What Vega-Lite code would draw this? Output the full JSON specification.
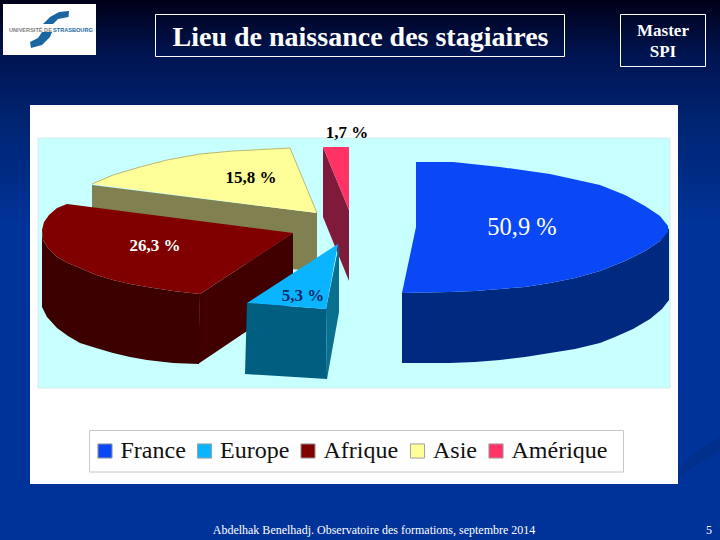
{"$schema":"https://vega.github.io/schema/vega-lite/v6.json","width":720,"height":540,"autosize":{"type":"fit","contains":"padding"},"padding":0,"background":"#003399","config":{"view":{"stroke":null}},
"datasets":{
"faces":[
{"part":"Asie côté","x":92,"y":185},{"part":"Asie côté","x":317,"y":213},{"part":"Asie côté","x":317,"y":272},{"part":"Asie côté","x":92,"y":245},
{"part":"Asie","x":92,"y":184},{"part":"Asie","x":102,"y":179},{"part":"Asie","x":113,"y":175},{"part":"Asie","x":126,"y":171},{"part":"Asie","x":140,"y":167},{"part":"Asie","x":153,"y":163},{"part":"Asie","x":167,"y":160},{"part":"Asie","x":183,"y":157},{"part":"Asie","x":200,"y":154},{"part":"Asie","x":216,"y":152},{"part":"Asie","x":233,"y":151},{"part":"Asie","x":260,"y":149},{"part":"Asie","x":290,"y":148},{"part":"Asie","x":317,"y":213},
{"part":"Afrique droit","x":200,"y":294},{"part":"Afrique droit","x":293,"y":233},{"part":"Afrique droit","x":293,"y":300},{"part":"Afrique droit","x":198,"y":364},
{"part":"Afrique côté","x":42,"y":230},{"part":"Afrique côté","x":43,"y":240},{"part":"Afrique côté","x":48,"y":248},{"part":"Afrique côté","x":57,"y":257},{"part":"Afrique côté","x":68,"y":263},{"part":"Afrique côté","x":80,"y":268},{"part":"Afrique côté","x":96,"y":275},{"part":"Afrique côté","x":113,"y":280},{"part":"Afrique côté","x":130,"y":284},{"part":"Afrique côté","x":147,"y":287},{"part":"Afrique côté","x":173,"y":291},{"part":"Afrique côté","x":200,"y":294},{"part":"Afrique côté","x":199,"y":364},{"part":"Afrique côté","x":173,"y":363},{"part":"Afrique côté","x":147,"y":360},{"part":"Afrique côté","x":130,"y":357},{"part":"Afrique côté","x":113,"y":353},{"part":"Afrique côté","x":96,"y":348},{"part":"Afrique côté","x":80,"y":343},{"part":"Afrique côté","x":68,"y":336},{"part":"Afrique côté","x":57,"y":328},{"part":"Afrique côté","x":47,"y":317},{"part":"Afrique côté","x":42,"y":307},
{"part":"Afrique","x":67,"y":204},{"part":"Afrique","x":57,"y":208},{"part":"Afrique","x":49,"y":215},{"part":"Afrique","x":44,"y":222},{"part":"Afrique","x":42,"y":230},{"part":"Afrique","x":43,"y":240},{"part":"Afrique","x":48,"y":248},{"part":"Afrique","x":57,"y":257},{"part":"Afrique","x":68,"y":263},{"part":"Afrique","x":80,"y":268},{"part":"Afrique","x":96,"y":275},{"part":"Afrique","x":113,"y":280},{"part":"Afrique","x":130,"y":284},{"part":"Afrique","x":147,"y":287},{"part":"Afrique","x":173,"y":291},{"part":"Afrique","x":200,"y":294},{"part":"Afrique","x":293,"y":233},
{"part":"Amérique côté","x":323,"y":147},{"part":"Amérique côté","x":349,"y":210},{"part":"Amérique côté","x":349,"y":281},{"part":"Amérique côté","x":323,"y":217},
{"part":"Amérique","x":323,"y":147},{"part":"Amérique","x":349,"y":147},{"part":"Amérique","x":349,"y":210},
{"part":"Europe côté","x":247,"y":303},{"part":"Europe côté","x":326,"y":309},{"part":"Europe côté","x":327,"y":379},{"part":"Europe côté","x":245,"y":374},
{"part":"Europe droit","x":326,"y":309},{"part":"Europe droit","x":339,"y":244},{"part":"Europe droit","x":339,"y":312},{"part":"Europe droit","x":327,"y":379},
{"part":"Europe","x":338,"y":244},{"part":"Europe","x":247,"y":303},{"part":"Europe","x":326,"y":309},
{"part":"France côté","x":402,"y":293},{"part":"France côté","x":450,"y":292},{"part":"France côté","x":475,"y":291},{"part":"France côté","x":500,"y":289},{"part":"France côté","x":525,"y":287},{"part":"France côté","x":550,"y":283},{"part":"France côté","x":575,"y":278},{"part":"France côté","x":600,"y":271},{"part":"France côté","x":625,"y":261},{"part":"France côté","x":645,"y":251},{"part":"France côté","x":660,"y":241},{"part":"France côté","x":669,"y":228},{"part":"France côté","x":669,"y":300},{"part":"France côté","x":662,"y":309},{"part":"France côté","x":650,"y":319},{"part":"France côté","x":633,"y":329},{"part":"France côté","x":615,"y":337},{"part":"France côté","x":600,"y":343},{"part":"France côté","x":575,"y":349},{"part":"France côté","x":550,"y":353},{"part":"France côté","x":525,"y":357},{"part":"France côté","x":500,"y":360},{"part":"France côté","x":475,"y":362},{"part":"France côté","x":450,"y":363},{"part":"France côté","x":402,"y":363},
{"part":"France","x":416,"y":162},{"part":"France","x":453,"y":162},{"part":"France","x":500,"y":167},{"part":"France","x":550,"y":174},{"part":"France","x":600,"y":185},{"part":"France","x":625,"y":195},{"part":"France","x":645,"y":206},{"part":"France","x":660,"y":216},{"part":"France","x":668,"y":226},{"part":"France","x":668,"y":232},{"part":"France","x":660,"y":241},{"part":"France","x":645,"y":251},{"part":"France","x":625,"y":261},{"part":"France","x":600,"y":271},{"part":"France","x":575,"y":278},{"part":"France","x":550,"y":283},{"part":"France","x":525,"y":287},{"part":"France","x":500,"y":289},{"part":"France","x":475,"y":291},{"part":"France","x":450,"y":292},{"part":"France","x":402,"y":293},{"part":"France","x":416,"y":227}
],
"logo":[
{"s":"haut","x":69,"y":11},{"s":"haut","x":68.5,"y":17},{"s":"haut","x":58,"y":19},{"s":"haut","x":53,"y":24},{"s":"haut","x":43,"y":24},{"s":"haut","x":50,"y":17},{"s":"haut","x":59,"y":12},
{"s":"bas","x":30,"y":42},{"s":"bas","x":31,"y":48},{"s":"bas","x":42,"y":45},{"s":"bas","x":50,"y":37},{"s":"bas","x":52,"y":32},{"s":"bas","x":42,"y":32},{"s":"bas","x":38,"y":38}
]
},
"layer":[
{"data":{"values":[{"x":0,"x2":720,"y":0,"y2":540}]},"mark":{"type":"rect","fill":{"gradient":"linear","x1":0,"y1":0,"x2":0,"y2":1,"stops":[{"offset":0,"color":"#000018"},{"offset":0.1,"color":"#001450"},{"offset":0.22,"color":"#002470"},{"offset":0.42,"color":"#003399"},{"offset":1,"color":"#003399"}]}},
"encoding":{"x":{"field":"x","type":"quantitative","scale":{"domain":[0,720],"nice":false,"zero":false},"axis":null},"x2":{"field":"x2"},"y":{"field":"y","type":"quantitative","scale":{"domain":[540,0],"nice":false,"zero":false},"axis":null},"y2":{"field":"y2"}}},
{"data":{"values":[{"x":678,"y":470},{"x":695,"y":452},{"x":720,"y":437},{"x":720,"y":452},{"x":700,"y":462},{"x":678,"y":478}]},"transform":[{"window":[{"op":"row_number","as":"n"}]}],"mark":{"type":"line","interpolate":"linear-closed","filled":true,"fill":"#002f8c","strokeWidth":0},"encoding":{"x":{"field":"x","type":"quantitative"},"y":{"field":"y","type":"quantitative"},"order":{"field":"n"}}},
{"data":{"values":[{"x":30,"x2":678,"y":105,"y2":484},{"x":3,"x2":96,"y":4,"y2":55}]},"mark":{"type":"rect","fill":"#ffffff"},"encoding":{"x":{"field":"x","type":"quantitative"},"x2":{"field":"x2"},"y":{"field":"y","type":"quantitative"},"y2":{"field":"y2"}}},
{"data":{"values":[{"x":38,"x2":670,"y":138,"y2":388}]},"mark":{"type":"rect","fill":"#c8ffff","stroke":"#d6ecec","strokeWidth":1},"encoding":{"x":{"field":"x","type":"quantitative"},"x2":{"field":"x2"},"y":{"field":"y","type":"quantitative"},"y2":{"field":"y2"}}},
{"data":{"values":[{"x":89.5,"x2":623.5,"y":430.5,"y2":472}]},"mark":{"type":"rect","fill":"#ffffff","stroke":"#c8c8c8","strokeWidth":1},"encoding":{"x":{"field":"x","type":"quantitative"},"x2":{"field":"x2"},"y":{"field":"y","type":"quantitative"},"y2":{"field":"y2"}}},
{"data":{"values":[{"x":155.5,"x2":564.5,"y":14.5,"y2":56.5},{"x":620.5,"x2":705.5,"y":14.5,"y2":66.5}]},"mark":{"type":"rect","fill":null,"stroke":"#ffffff","strokeWidth":1},"encoding":{"x":{"field":"x","type":"quantitative"},"x2":{"field":"x2"},"y":{"field":"y","type":"quantitative"},"y2":{"field":"y2"}}},
{"data":{"name":"logo"},"transform":[{"window":[{"op":"row_number","as":"n"}]}],"mark":{"type":"line","interpolate":"linear-closed","filled":true,"fill":"#1a66a3","strokeWidth":0},"encoding":{"x":{"field":"x","type":"quantitative"},"y":{"field":"y","type":"quantitative"},"detail":{"field":"s"},"order":{"field":"n"}}},
{"data":{"values":[{"t":"UNIVERSITÉ DE","x":9,"y":30}]},"mark":{"type":"text","align":"left","font":"Liberation Sans","fontWeight":"bold","fontSize":5.6,"letterSpacing":0.1,"fill":"#808080"},"encoding":{"x":{"field":"x","type":"quantitative"},"y":{"field":"y","type":"quantitative"},"text":{"field":"t"}}},
{"data":{"values":[{"t":"STRASBOURG","x":53,"y":30}]},"mark":{"type":"text","align":"left","font":"Liberation Sans","fontWeight":"bold","fontSize":5.6,"letterSpacing":0,"fill":"#1a66a3"},"encoding":{"x":{"field":"x","type":"quantitative"},"y":{"field":"y","type":"quantitative"},"text":{"field":"t"}}},
{"data":{"name":"faces"},"transform":[{"window":[{"op":"row_number","as":"n"}]}],"mark":{"type":"line","interpolate":"linear-closed","filled":true,"strokeWidth":0},
"encoding":{"x":{"field":"x","type":"quantitative"},"y":{"field":"y","type":"quantitative"},"order":{"field":"n"},
"fill":{"field":"part","type":"nominal","scale":{"domain":["France","Europe","Afrique","Asie","Amérique","France côté","Europe côté","Europe droit","Afrique côté","Afrique droit","Asie côté","Amérique côté"],"range":["#0a48f5","#0ab4ff","#800000","#ffff99","#ff3366","#002a80","#005f80","#0a7090","#3c0000","#400000","#808050","#801a3a"]},
"legend":{"orient":"none","legendX":93,"legendY":439,"title":null,"direction":"horizontal","columns":5,"values":["France","Europe","Afrique","Asie","Amérique"],"symbolType":"square","symbolSize":200,"symbolStrokeWidth":1,"symbolStrokeColor":"#a0a0a0","symbolOpacity":1,"labelFont":"Liberation Serif","labelFontSize":24,"labelColor":"#111111","labelLimit":200,"labelOffset":3.5,"columnPadding":6.5,"padding":0}}}},
{"data":{"values":[{"x":92,"y":184},{"x":113,"y":175},{"x":140,"y":167},{"x":167,"y":160},{"x":200,"y":154},{"x":233,"y":151},{"x":290,"y":148},{"x":317,"y":213}]},"transform":[{"window":[{"op":"row_number","as":"n"}]}],"mark":{"type":"line","stroke":"#b8b878","strokeWidth":1,"interpolate":"linear"},"encoding":{"x":{"field":"x","type":"quantitative"},"y":{"field":"y","type":"quantitative"},"order":{"field":"n"}}},
{"data":{"values":[{"t":"1,7 %","x":347,"y":138},{"t":"15,8 %","x":251,"y":183}]},"mark":{"type":"text","font":"Liberation Serif","fontWeight":"bold","fontSize":17,"fill":"#000000","baseline":"alphabetic"},"encoding":{"x":{"field":"x","type":"quantitative"},"y":{"field":"y","type":"quantitative"},"text":{"field":"t"}}},
{"data":{"values":[{"t":"26,3 %","x":155,"y":251}]},"mark":{"type":"text","font":"Liberation Serif","fontWeight":"bold","fontSize":17,"fill":"#ffffff","baseline":"alphabetic"},"encoding":{"x":{"field":"x","type":"quantitative"},"y":{"field":"y","type":"quantitative"},"text":{"field":"t"}}},
{"data":{"values":[{"t":"5,3 %","x":303,"y":301}]},"mark":{"type":"text","font":"Liberation Serif","fontWeight":"bold","fontSize":17,"fill":"#0a2a66","baseline":"alphabetic"},"encoding":{"x":{"field":"x","type":"quantitative"},"y":{"field":"y","type":"quantitative"},"text":{"field":"t"}}},
{"data":{"values":[{"t":"50,9 %","x":522,"y":235}]},"mark":{"type":"text","font":"Liberation Serif","fontSize":24.5,"fill":"#ffffff","baseline":"alphabetic"},"encoding":{"x":{"field":"x","type":"quantitative"},"y":{"field":"y","type":"quantitative"},"text":{"field":"t"}}},
{"data":{"values":[{"t":"Lieu de naissance des stagiaires","x":360.5,"y":46}]},"mark":{"type":"text","font":"Liberation Serif","fontWeight":"bold","fontSize":28,"fill":"#ffffff","baseline":"alphabetic"},"encoding":{"x":{"field":"x","type":"quantitative"},"y":{"field":"y","type":"quantitative"},"text":{"field":"t"}}},
{"data":{"values":[{"t":"Master","x":663,"y":36},{"t":"SPI","x":663,"y":57}]},"mark":{"type":"text","font":"Liberation Serif","fontWeight":"bold","fontSize":17,"fill":"#ffffff","baseline":"alphabetic"},"encoding":{"x":{"field":"x","type":"quantitative"},"y":{"field":"y","type":"quantitative"},"text":{"field":"t"}}},
{"data":{"values":[{"t":"Abdelhak Benelhadj. Observatoire des formations, septembre 2014","x":374,"y":534},{"t":"5","x":709,"y":534}]},"mark":{"type":"text","font":"Liberation Serif","fontSize":12,"fill":"#ffffff","baseline":"alphabetic"},"encoding":{"x":{"field":"x","type":"quantitative"},"y":{"field":"y","type":"quantitative"},"text":{"field":"t"}}}
]}
